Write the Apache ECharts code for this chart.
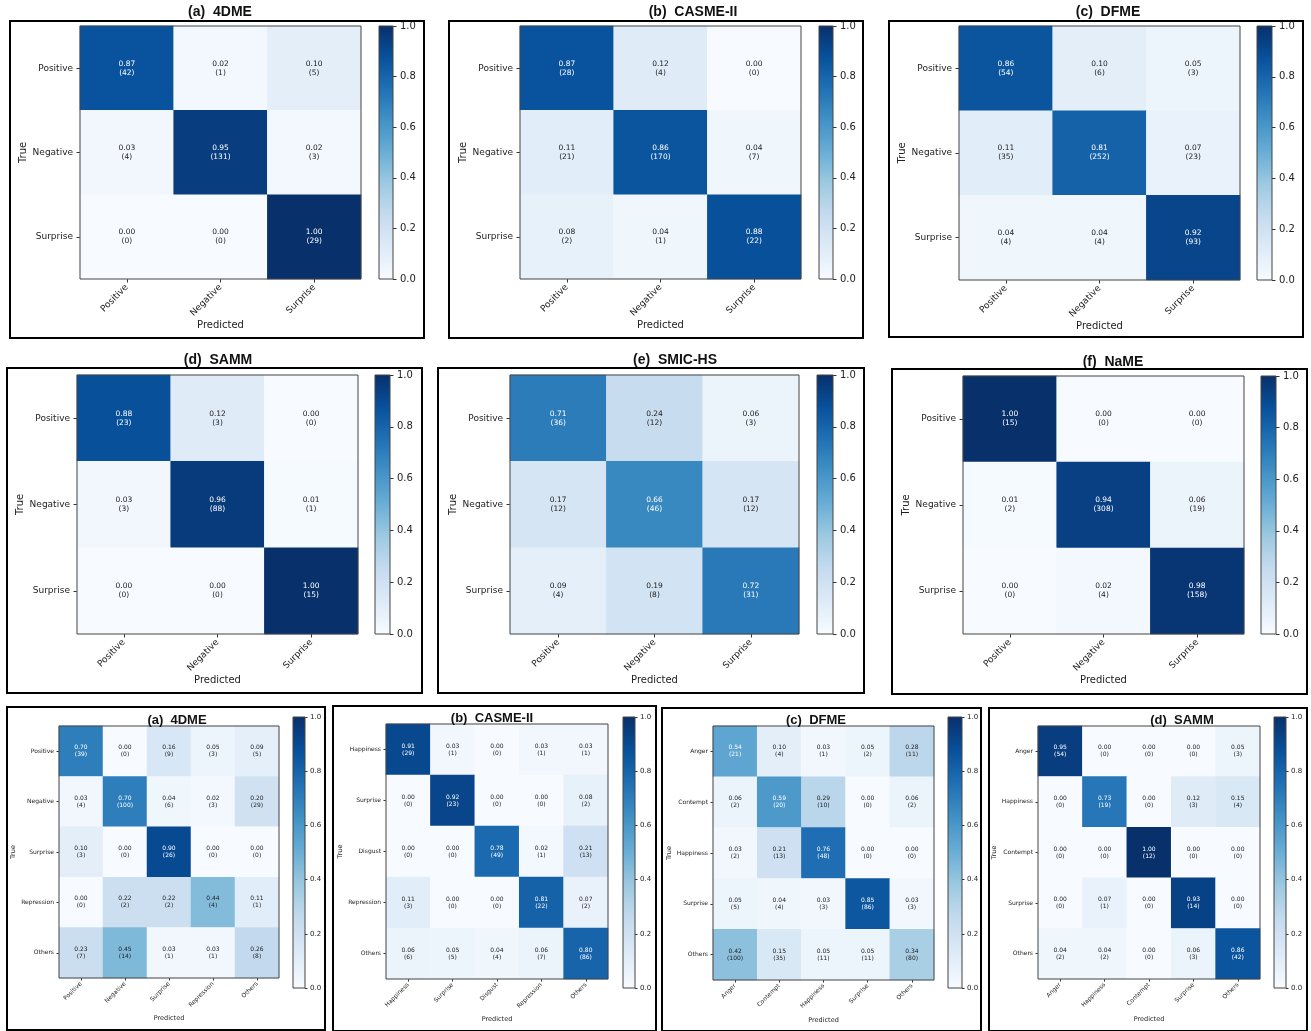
<!DOCTYPE html>
<html>
<head>
<meta charset="utf-8">
<script src="https://cdn.jsdelivr.net/npm/echarts@6/dist/echarts.min.js"></script>
<style>
  html, body { margin: 0; padding: 0; background: #fff; }
  #chart { width: 1311px; height: 1031px; }
</style>
</head>
<body>
<div id="chart"></div>
<script>
// ---- class labels ----
const classes3 = ['Positive', 'Negative', 'Surprise'];
const classes4DME5 = ['Positive', 'Negative', 'Surprise', 'Repression', 'Others'];
const classesCASME5 = ['Happiness', 'Surprise', 'Disgust', 'Repression', 'Others'];
const classesDFME5 = ['Anger', 'Contempt', 'Happiness', 'Surprise', 'Others'];
const classesSAMM5 = ['Anger', 'Happiness', 'Contempt', 'Surprise', 'Others'];

// ---- 3-class results: normalised rates and sample counts (rows = true class) ----
const rate4DME3 = [[0.87, 0.02, 0.10], [0.03, 0.95, 0.02], [0.00, 0.00, 1.00]];
const count4DME3 = [[42, 1, 5], [4, 131, 3], [0, 0, 29]];
const rateCASME3 = [[0.87, 0.12, 0.00], [0.11, 0.86, 0.04], [0.08, 0.04, 0.88]];
const countCASME3 = [[28, 4, 0], [21, 170, 7], [2, 1, 22]];
const rateDFME3 = [[0.86, 0.10, 0.05], [0.11, 0.81, 0.07], [0.04, 0.04, 0.92]];
const countDFME3 = [[54, 6, 3], [35, 252, 23], [4, 4, 93]];
const rateSAMM3 = [[0.88, 0.12, 0.00], [0.03, 0.96, 0.01], [0.00, 0.00, 1.00]];
const countSAMM3 = [[23, 3, 0], [3, 88, 1], [0, 0, 15]];
const rateSMIC3 = [[0.71, 0.24, 0.06], [0.17, 0.66, 0.17], [0.09, 0.19, 0.72]];
const countSMIC3 = [[36, 12, 3], [12, 46, 12], [4, 8, 31]];
const rateNaME3 = [[1.00, 0.00, 0.00], [0.01, 0.94, 0.06], [0.00, 0.02, 0.98]];
const countNaME3 = [[15, 0, 0], [2, 308, 19], [0, 4, 158]];

// ---- 5-class results ----
const rate4DME5 = [
  [0.70, 0.00, 0.16, 0.05, 0.09],
  [0.03, 0.70, 0.04, 0.02, 0.20],
  [0.10, 0.00, 0.90, 0.00, 0.00],
  [0.00, 0.22, 0.22, 0.44, 0.11],
  [0.23, 0.45, 0.03, 0.03, 0.26]
];
const count4DME5 = [
  [39, 0, 9, 3, 5],
  [4, 100, 6, 3, 29],
  [3, 0, 26, 0, 0],
  [0, 2, 2, 4, 1],
  [7, 14, 1, 1, 8]
];
const rateCASME5 = [
  [0.91, 0.03, 0.00, 0.03, 0.03],
  [0.00, 0.92, 0.00, 0.00, 0.08],
  [0.00, 0.00, 0.78, 0.02, 0.21],
  [0.11, 0.00, 0.00, 0.81, 0.07],
  [0.06, 0.05, 0.04, 0.06, 0.80]
];
const countCASME5 = [
  [29, 1, 0, 1, 1],
  [0, 23, 0, 0, 2],
  [0, 0, 49, 1, 13],
  [3, 0, 0, 22, 2],
  [6, 5, 4, 7, 86]
];
const rateDFME5 = [
  [0.54, 0.10, 0.03, 0.05, 0.28],
  [0.06, 0.59, 0.29, 0.00, 0.06],
  [0.03, 0.21, 0.76, 0.00, 0.00],
  [0.05, 0.04, 0.03, 0.85, 0.03],
  [0.42, 0.15, 0.05, 0.05, 0.34]
];
const countDFME5 = [
  [21, 4, 1, 2, 11],
  [2, 20, 10, 0, 2],
  [2, 13, 48, 0, 0],
  [5, 4, 3, 86, 3],
  [100, 35, 11, 11, 80]
];
const rateSAMM5 = [
  [0.95, 0.00, 0.00, 0.00, 0.05],
  [0.00, 0.73, 0.00, 0.12, 0.15],
  [0.00, 0.00, 1.00, 0.00, 0.00],
  [0.00, 0.07, 0.00, 0.93, 0.00],
  [0.04, 0.04, 0.00, 0.06, 0.86]
];
const countSAMM5 = [
  [54, 0, 0, 0, 3],
  [0, 19, 0, 3, 4],
  [0, 0, 12, 0, 0],
  [0, 1, 0, 14, 0],
  [2, 2, 0, 3, 42]
];

// ---- colour bar ticks ----
const colorbarTicks = [0, 0.2, 0.4, 0.6, 0.8, 1.0];

// matplotlib "Blues" colour map stops
const BLUES = ['#f7fbff', '#deebf7', '#c6dbef', '#9ecae1', '#6baed6', '#4292c6', '#2171b5', '#08519c', '#08306b'];

// text styles for the large (3-class) and small (5-class) panels
const STYLE_LARGE = { tick: 9, cell: 7.5, cellLH: 9, cb: 10, name: 10, title: 14, gapX: 41, gapY: 52,
                      tickLen: 3.5, marginX: 7, marginY: 7, marginCb: 7 };
const STYLE_SMALL = { tick: 6, cell: 6, cellLH: 7, cb: 7, name: 6.5, title: 13, gapX: 37, gapY: 40,
                      tickLen: 2.5, marginX: 5, marginY: 5, marginCb: 5 };

// panel layout: frame box, heat-map grid, colour bar grid, title anchor
const panels = [
  { title: '(a)  4DME', cls: classes3, rate: rate4DME3, count: count4DME3, st: STYLE_LARGE,
    box: [10, 21, 414, 317], grid: [80, 26, 281, 253], cbar: [379, 26, 14, 253], tx: 220, ty: 12 },
  { title: '(b)  CASME-II', cls: classes3, rate: rateCASME3, count: countCASME3, st: STYLE_LARGE,
    box: [449, 21, 414, 317], grid: [520, 26, 281, 253], cbar: [819, 26, 14, 253], tx: 693, ty: 12 },
  { title: '(c)  DFME', cls: classes3, rate: rateDFME3, count: countDFME3, st: STYLE_LARGE,
    box: [889, 21, 414, 316], grid: [959, 26, 281, 254], cbar: [1257, 26, 15, 254], tx: 1108, ty: 12 },
  { title: '(d)  SAMM', cls: classes3, rate: rateSAMM3, count: countSAMM3, st: STYLE_LARGE,
    box: [7, 368, 415, 325], grid: [77, 375, 281, 259], cbar: [375, 375, 15, 259], tx: 218, ty: 360 },
  { title: '(e)  SMIC-HS', cls: classes3, rate: rateSMIC3, count: countSMIC3, st: STYLE_LARGE,
    box: [438, 368, 426, 325], grid: [510, 375, 289, 259], cbar: [817, 375, 16, 259], tx: 675, ty: 360 },
  { title: '(f)  NaME', cls: classes3, rate: rateNaME3, count: countNaME3, st: STYLE_LARGE,
    box: [892, 369, 415, 325], grid: [963, 376, 281, 258], cbar: [1261, 376, 15, 258], tx: 1113, ty: 362 },
  { title: '(a)  4DME', cls: classes4DME5, rate: rate4DME5, count: count4DME5, st: STYLE_SMALL,
    box: [7, 707, 318, 323], grid: [59, 726, 220, 252], cbar: [293, 717, 12, 271], tx: 177, ty: 720 },
  { title: '(b)  CASME-II', cls: classesCASME5, rate: rateCASME5, count: countCASME5, st: STYLE_SMALL,
    box: [333, 706, 323, 325], grid: [386, 724, 222, 255], cbar: [623, 717, 12, 271], tx: 492, ty: 718 },
  { title: '(c)  DFME', cls: classesDFME5, rate: rateDFME5, count: countDFME5, st: STYLE_SMALL,
    box: [662, 708, 319, 323], grid: [713, 726, 221, 254], cbar: [948, 717, 14, 271], tx: 816, ty: 720 },
  { title: '(d)  SAMM', cls: classesSAMM5, rate: rateSAMM5, count: countSAMM5, st: STYLE_SMALL,
    box: [989, 708, 318, 323], grid: [1038, 726, 222, 253], cbar: [1274, 717, 12, 271], tx: 1182, ty: 720 }
];

const AXIS_FONT = 'DejaVu Sans';
const TITLE_FONT = 'Liberation Sans';
const FRAME = '#444';

const grids = [], xAxes = [], yAxes = [], series = [], titles = [], graphics = [];
const heatIdx = [];

panels.forEach((p) => {
  const st = p.st;
  const gHeat = grids.length;
  grids.push({
    left: p.grid[0], top: p.grid[1], width: p.grid[2], height: p.grid[3],
    show: true, borderColor: FRAME, borderWidth: 1, backgroundColor: 'transparent', z: 5,
    containLabel: false, outerBoundsMode: 'none'
  });
  const gBar = grids.length;
  grids.push({
    left: p.cbar[0], top: p.cbar[1], width: p.cbar[2], height: p.cbar[3],
    show: true, borderColor: FRAME, borderWidth: 1, backgroundColor: 'transparent', z: 5,
    containLabel: false, outerBoundsMode: 'none'
  });

  // heat-map axes
  const xHeat = xAxes.length;
  xAxes.push({
    type: 'category', gridIndex: gHeat, data: p.cls, position: 'bottom',
    name: 'Predicted', nameLocation: 'middle', nameGap: st.gapX,
    nameTextStyle: { fontFamily: AXIS_FONT, fontSize: st.name, color: '#222' },
    axisLine: { show: false },
    axisTick: { show: true, alignWithLabel: true, length: st.tickLen, lineStyle: { color: '#333' } },
    axisLabel: { rotate: 45, fontFamily: AXIS_FONT, fontSize: st.tick, color: '#222', margin: st.marginX, interval: 0 },
    splitLine: { show: false }, splitArea: { show: false }
  });
  const yHeat = yAxes.length;
  yAxes.push({
    type: 'category', gridIndex: gHeat, data: p.cls, inverse: true, position: 'left',
    name: 'True', nameLocation: 'middle', nameGap: st.gapY,
    nameTextStyle: { fontFamily: AXIS_FONT, fontSize: st.name, color: '#222' },
    axisLine: { show: false },
    axisTick: { show: true, alignWithLabel: true, length: st.tickLen, lineStyle: { color: '#333' } },
    axisLabel: { fontFamily: AXIS_FONT, fontSize: st.tick, color: '#222', margin: st.marginY, interval: 0 },
    splitLine: { show: false }, splitArea: { show: false }
  });

  // colour bar axes
  const xBar = xAxes.length;
  xAxes.push({
    type: 'category', gridIndex: gBar, data: ['scale'], show: false
  });
  const yBar = yAxes.length;
  yAxes.push({
    type: 'value', gridIndex: gBar, position: 'right', min: 0, max: 1, interval: 0.2,
    axisLine: { show: false },
    axisTick: { show: true, length: st.tickLen, lineStyle: { color: '#333' } },
    axisLabel: {
      fontFamily: AXIS_FONT, fontSize: st.cb, color: '#222', margin: st.marginCb,
      formatter: v => colorbarTicks.some(t => Math.abs(t - v) < 1e-9) ? v.toFixed(1) : ''
    },
    splitLine: { show: false }
  });

  // cells
  const data = [];
  p.rate.forEach((row, r) => {
    row.forEach((v, c) => {
      data.push({
        value: [c, r, v, p.count[r][c]],
        label: { color: v > 0.5 ? '#ffffff' : '#222222' }
      });
    });
  });
  heatIdx.push(series.length);
  series.push({
    type: 'heatmap', xAxisIndex: xHeat, yAxisIndex: yHeat, data: data,
    label: {
      show: true, fontFamily: AXIS_FONT, fontSize: st.cell, lineHeight: st.cellLH,
      formatter: q => q.value[2].toFixed(2) + '\n(' + q.value[3] + ')'
    },
    itemStyle: { borderWidth: 0 },
    emphasis: { disabled: true },
    silent: true
  });

  // colour bar drawn as one full-height bar with a Blues gradient
  series.push({
    type: 'bar', xAxisIndex: xBar, yAxisIndex: yBar, data: [1], barWidth: '100%',
    silent: true,
    itemStyle: {
      color: new echarts.graphic.LinearGradient(0, 1, 0, 0,
        BLUES.map((c, k) => ({ offset: k / (BLUES.length - 1), color: c })))
    }
  });

  titles.push({
    text: p.title, left: p.tx, top: p.ty - st.title / 2, textAlign: 'center', padding: 0,
    textStyle: { fontFamily: TITLE_FONT, fontWeight: 'bold', fontSize: st.title, color: '#111' }
  });

  graphics.push({
    type: 'rect', z: 100, silent: true,
    shape: { x: p.box[0], y: p.box[1], width: p.box[2], height: p.box[3] },
    style: { fill: null, stroke: '#000', lineWidth: 2 }
  });
});

const chart = echarts.init(document.getElementById('chart'), null, { renderer: 'canvas' });
chart.setOption({
  animation: false,
  backgroundColor: '#ffffff',
  title: titles,
  grid: grids,
  xAxis: xAxes,
  yAxis: yAxes,
  visualMap: {
    show: false, type: 'continuous', min: 0, max: 1, dimension: 2,
    seriesIndex: heatIdx, inRange: { color: BLUES }
  },
  series: series,
  graphic: graphics
});
</script>
</body>
</html>
